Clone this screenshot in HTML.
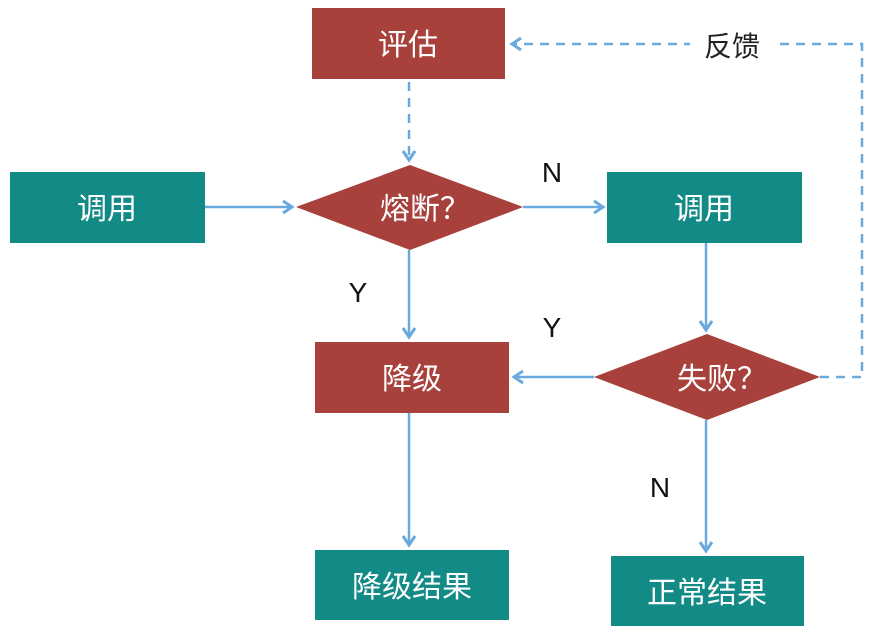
<!DOCTYPE html>
<html><head><meta charset="utf-8"><style>
body{margin:0;background:#fff;}
svg text{font-family:"Liberation Sans","Noto Sans CJK SC",sans-serif;}
</style></head><body>
<svg width="890" height="636" viewBox="0 0 890 636" xmlns="http://www.w3.org/2000/svg">
<defs>
<marker id="a" markerWidth="14" markerHeight="14" refX="11" refY="7" orient="auto" markerUnits="userSpaceOnUse">
<path d="M2,1 L11,7 L2,13" fill="none" stroke="#6aa9de" stroke-width="3"/>
</marker>
</defs>
<g stroke="#6aa9de" stroke-width="2.5" fill="none">
<line x1="409" y1="82" x2="409" y2="160" stroke-dasharray="9,7" marker-end="url(#a)"/>
<polyline points="820,377 862,377 862,44 512,44" stroke-dasharray="9,7" marker-end="url(#a)"/>
<line x1="205" y1="207" x2="292" y2="207" marker-end="url(#a)"/>
<line x1="523" y1="207" x2="603" y2="207" marker-end="url(#a)"/>
<line x1="409" y1="250" x2="409" y2="337" marker-end="url(#a)"/>
<line x1="706" y1="243" x2="706" y2="330" marker-end="url(#a)"/>
<line x1="594" y1="377" x2="514" y2="377" marker-end="url(#a)"/>
<line x1="409" y1="413" x2="409" y2="545" marker-end="url(#a)"/>
<line x1="706" y1="420" x2="706" y2="551" marker-end="url(#a)"/>
</g>
<rect x="690" y="26" width="86" height="40" fill="#fff"/>
<text x="732" y="56" font-size="28" text-anchor="middle" fill="#222">反馈</text>
<g fill="#a8403c">
<rect x="312" y="8" width="193" height="71"/>
<polygon points="296,207 410,165 523,207 410,250"/>
<rect x="315" y="342" width="194" height="71"/>
<polygon points="594,377 707,334 820,377 707,420"/>
</g>
<g fill="#128a85">
<rect x="10" y="172" width="195" height="71"/>
<rect x="607" y="172" width="195" height="71"/>
<rect x="315" y="550" width="194" height="70"/>
<rect x="611" y="556" width="193" height="70"/>
</g>
<g fill="#fff" font-size="30" text-anchor="middle">
<text x="408" y="55">评估</text>
<text x="425" y="219">熔断？</text>
<text x="107" y="219">调用</text>
<text x="704" y="219">调用</text>
<text x="412" y="389">降级</text>
<text x="722" y="389">失败？</text>
<text x="412" y="597">降级结果</text>
<text x="707" y="603">正常结果</text>
</g>
<g fill="#111" font-size="28" text-anchor="middle">
<text x="552" y="182">N</text>
<text x="358" y="302">Y</text>
<text x="552" y="337">Y</text>
<text x="660" y="497">N</text>
</g>
</svg>
</body></html>
